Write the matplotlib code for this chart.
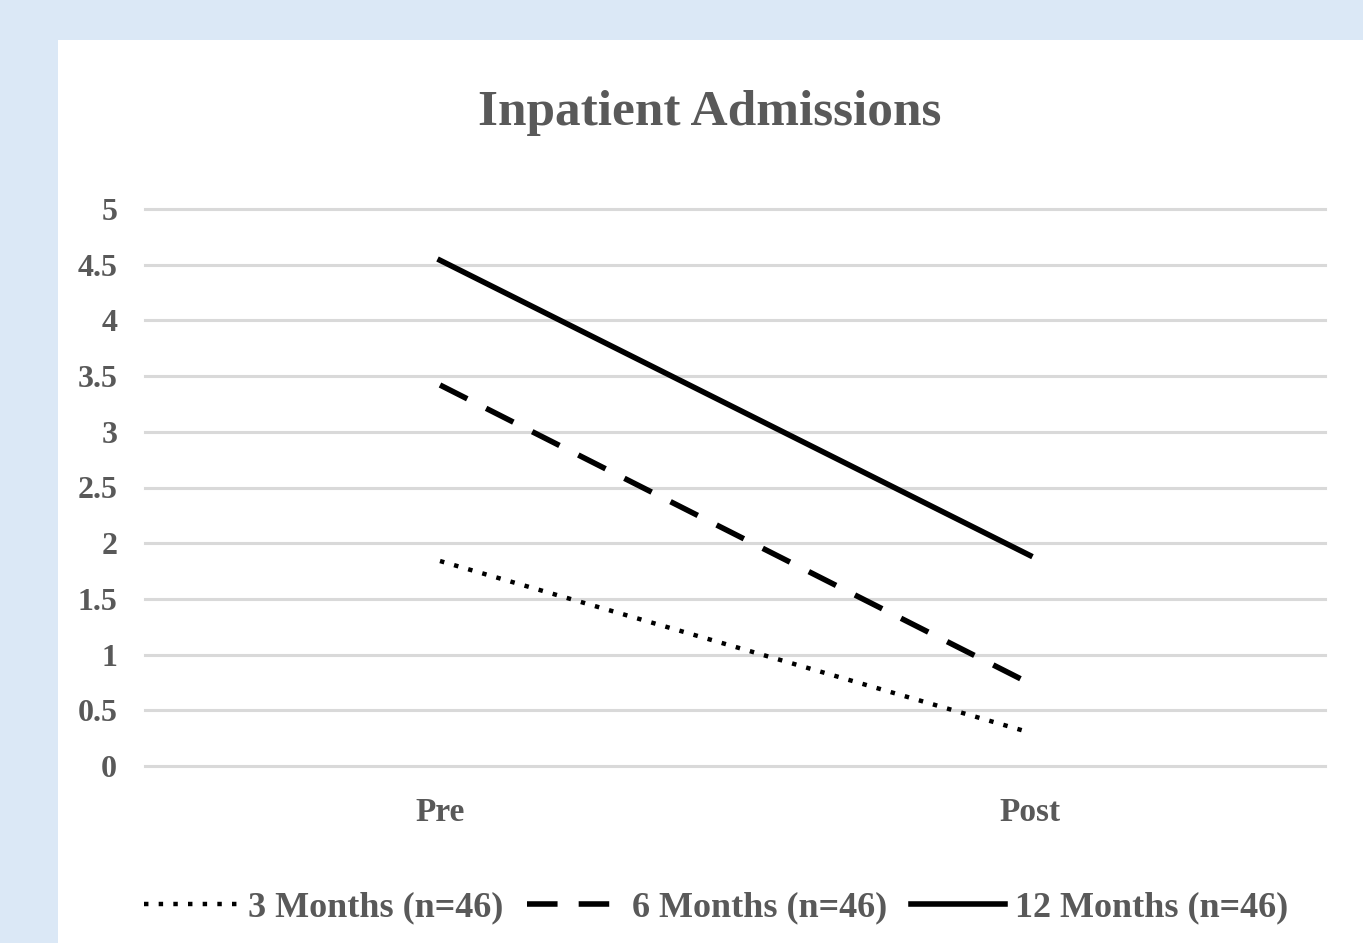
import matplotlib.pyplot as plt
from matplotlib.patches import Rectangle

# inpatient admissions, mean per patient
periods = ["Pre", "Post"]
three_months = [1.84, 0.30]
six_months = [3.42, 0.74]
twelve_months = [4.54, 1.89]
series_labels = ["3 Months (n=46)", "6 Months (n=46)", "12 Months (n=46)"]
y_ticks = [0, 0.5, 1, 1.5, 2, 2.5, 3, 3.5, 4, 4.5, 5]

text_color = "#595959"
plt.rcParams["font.family"] = ["Liberation Serif", "DejaVu Serif"]
plt.rcParams["font.weight"] = "bold"

fig = plt.figure(figsize=(13.63, 9.43), dpi=100)
fig.patch.set_facecolor("#dbe8f6")
# white chart panel, kept behind the axes
fig.patches.append(Rectangle((58 / 1363, 0), 1, (943 - 40) / 943,
                             transform=fig.transFigure, facecolor="white",
                             edgecolor="none", zorder=-1))

ax = fig.add_axes([145 / 1363, 1 - 766 / 943, 1180 / 1363, (766 - 209) / 943])
ax.set_facecolor("none")

x = range(len(periods))
ax.plot(x, three_months, color="black", lw=3.2, linestyle=(0, (1, 2.3)),
        dash_capstyle="butt", label=series_labels[0])
ax.plot(x, six_months, color="black", lw=4, linestyle=(0, (5.5, 3.8)),
        dash_capstyle="butt", label=series_labels[1])
ax.plot(x, twelve_months, color="black", lw=4, label=series_labels[2])

ax.set_xlim(-0.5, 1.5)
ax.set_ylim(0, 5)
ax.set_yticks(y_ticks)
ax.set_yticklabels([f"{t:g}" for t in y_ticks])
ax.set_xticks(list(x))
ax.set_xticklabels(periods)
ax.grid(axis="y", color="#d9d9d9", lw=2.2)
for gl in ax.get_ygridlines():
    gl.set_clip_on(False)
ax.set_axisbelow(True)
for s in ax.spines.values():
    s.set_visible(False)
ax.tick_params(axis="y", length=0, pad=20, labelsize=23, labelcolor=text_color)
ax.tick_params(axis="x", length=0, pad=22, labelsize=24, labelcolor=text_color)

fig.text(710 / 1363, 1 - 113 / 943, "Inpatient Admissions", ha="center",
         va="center", fontsize=37, color=text_color, fontweight="bold")

leg = ax.legend(loc="center", bbox_to_anchor=(0.484, -0.255), ncol=3,
                frameon=False, fontsize=26, handlelength=2.6,
                handletextpad=0.3, columnspacing=0.65)
for t in leg.get_texts():
    t.set_color(text_color)

fig.savefig("out.png", dpi=100)
